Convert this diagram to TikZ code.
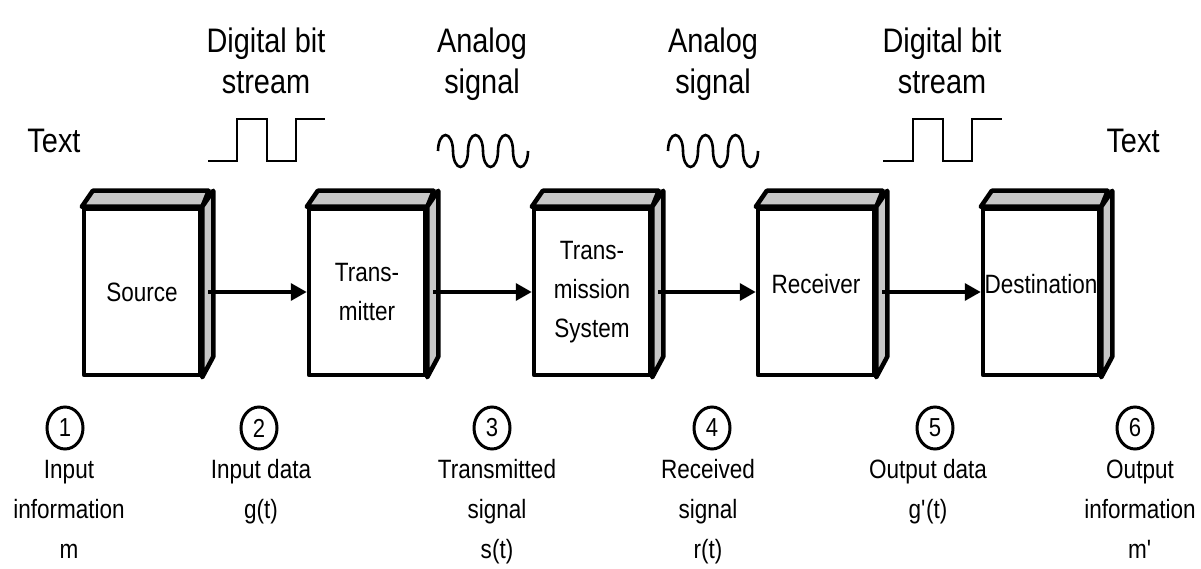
\documentclass[tikz,border=0pt]{standalone}
\usepackage{fontspec}
\setmainfont{Liberation Sans}[FakeStretch=0.85]
\usetikzlibrary{arrows.meta,shapes.geometric}
\newcommand\dTop{\fontsize{34}{41}\selectfont}
\newcommand\dBot{\fontsize{26.5}{40}\selectfont}
\newcommand\dBox{\fontsize{26.5}{39}\selectfont}
\newcommand\dNum{\fontsize{26}{30}\selectfont}
\begin{document}
\begin{tikzpicture}[x=1pt,y=-1pt,
  box/.style={draw, line width=4.5pt, fill=white, minimum width=116pt, minimum height=166pt, inner sep=0pt, align=center, font=\dBox, line join=round},
  face/.style={draw, line width=4.5pt, fill=black!22, line join=round},
  arr/.style={line width=3.5pt, -{Triangle[length=16pt,width=17pt]}},
  wave/.style={line width=2.6pt},
  toplab/.style={align=center, inner sep=0pt, anchor=north, font=\dTop},
  botlab/.style={align=center, inner sep=0pt, anchor=north, font=\dBot},
  num/.style={draw, ellipse, line width=3pt, minimum width=36pt, minimum height=42pt, inner sep=0pt, font=\dNum}
]
\useasboundingbox (0,0) rectangle (1201,569);

% top labels
\node[toplab] (tt1) at (54,123.3) {\strut Text};
\node[toplab] (tt2) at (266,23.3) {\strut Digital bit\\stream};
\node[toplab] (tt3) at (482,23.3) {\strut Analog\\signal};
\node[toplab] (tt4) at (713,23.3) {\strut Analog\\signal};
\node[toplab] (tt5) at (942,23.3) {\strut Digital bit\\stream};
\node[toplab] (tt6) at (1133,123.3) {\strut Text};

% waveforms
\draw[wave] (208,161) -- (237,161) -- (237,119) -- (267,119) -- (267,161) -- (296,161) -- (296,119) -- (325,119);
\draw[wave] (883,161) -- (913,161) -- (913,119) -- (943,119) -- (943,161) -- (972,161) -- (972,119) -- (1002,119);
\foreach \sx in {438,668}{
  \draw[wave] (\sx,151)
    arc[start angle=180, end angle=360, x radius=7.5, y radius=16]
    arc[start angle=180, end angle=0, x radius=7.5, y radius=16]
    arc[start angle=180, end angle=360, x radius=7.5, y radius=16]
    arc[start angle=180, end angle=0, x radius=7.5, y radius=16]
    arc[start angle=180, end angle=360, x radius=7.5, y radius=16]
    arc[start angle=180, end angle=0, x radius=7.5, y radius=16];
}

% boxes
\node[box] (src) at (142,292) {Source};
\node[box] (tx) at (367,292) {Trans-\\mitter};
\node[box] (ch) at (592,292) {Trans-\\mission\\System};
\node[box] (rx) at (816,292) {\raisebox{16pt}{Receiver}};
\node[box] (dst) at (1041,292) {\raisebox{16pt}{Destination}};
\foreach \b in {src,tx,ch,rx,dst}{
  \draw[face] (\b.north west) -- ++(11,-16) -- ++(116,0) -- (\b.north east) -- cycle;
  \draw[face] (\b.north east) -- ++(11,-16) -- ++(0,166) -- (\b.south east) -- cycle;
}

% arrows
\draw[arr] ([xshift=6pt]src.east) -- (tx.west);
\draw[arr] ([xshift=6pt]tx.east) -- (ch.west);
\draw[arr] ([xshift=6pt]ch.east) -- (rx.west);
\draw[arr] ([xshift=6pt]rx.east) -- (dst.west);

% numbered points
\node[num] (n1) at (65,428) {1};
\node[num] (n2) at (259,428) {2};
\node[num] (n3) at (492,428) {3};
\node[num] (n4) at (712,428) {4};
\node[num] (n5) at (935,428) {5};
\node[num] (n6) at (1135,428) {6};

% bottom labels
\node[botlab] (b1) at (69,450) {\strut Input\\information\\m};
\node[botlab] (b2) at (261,450) {\strut Input data\\g(t)};
\node[botlab] (b3) at (497,450) {\strut Transmitted\\signal\\s(t)};
\node[botlab] (b4) at (708,450) {\strut Received\\signal\\r(t)};
\node[botlab] (b5) at (928,450) {\strut Output data\\g\textquotesingle(t)};
\node[botlab] (b6) at (1140,450) {\strut Output\\information\\m\textquotesingle};
\end{tikzpicture}
\end{document}
